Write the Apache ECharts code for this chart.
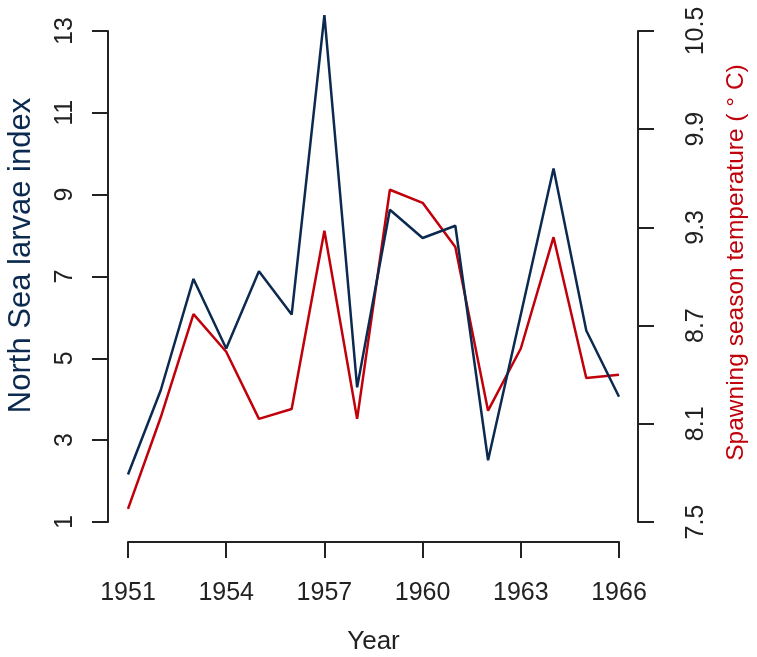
<!DOCTYPE html>
<html lang="en">
<head>
    <meta charset="UTF-8">
    <script src="https://cdn.jsdelivr.net/npm/echarts@6/dist/echarts.min.js"></script>
    <style>
        html, body {
            margin: 0;
            padding: 0;
            background: #ffffff;
        }

        #main {
            width: 757px;
            height: 657px;
        }
    </style>
</head>
<body>
<div id="main"></div>
<script type="text/javascript">
    // values
    const years = [1951, 1952, 1953, 1954, 1955, 1956, 1957, 1958, 1959, 1960, 1961, 1962, 1963, 1964, 1965, 1966];
    const larvae = [2.16, 4.22, 6.94, 5.24, 7.13, 6.07, 13.39, 4.29, 8.63, 7.94, 8.24, 2.51, 6.07, 9.64, 5.68, 4.06];
    const temperature = [7.58, 8.14, 8.77, 8.54, 8.13, 8.19, 9.28, 8.13, 9.53, 9.45, 9.18, 8.18, 8.56, 9.24, 8.38, 8.40];

    const yearTicks = [1951, 1954, 1957, 1960, 1963, 1966];
    const larvaeTicks = [1, 3, 5, 7, 9, 11, 13];
    const tempTicks = [7.5, 8.1, 8.7, 9.3, 9.9, 10.5];

    const blue = '#0c2a50';
    const red = '#c0000a';
    const ink = '#222222';
    const font = "'Liberation Sans', Arial, sans-serif";

    const chart = echarts.init(document.getElementById('main'));

    function pairs(ys) {
        return years.map(function (y, i) {
            return [y, ys[i]];
        });
    }

    chart.setOption({
        animation: false,
        backgroundColor: '#ffffff',
        textStyle: {fontFamily: font},
        grid: {
            left: 128,
            right: 138,
            top: 31,
            bottom: 135,
            outerBoundsMode: 'none'
        },
        xAxis: {
            type: 'value',
            min: 1951,
            max: 1966,
            offset: 20,
            splitLine: {show: false},
            axisLine: {lineStyle: {color: ink, width: 2}},
            axisTick: {length: 16, lineStyle: {color: ink, width: 2}, customValues: yearTicks},
            axisLabel: {
                customValues: yearTicks,
                color: ink,
                fontSize: 25,
                fontFamily: font,
                margin: 39,
                formatter: function (v) {
                    return String(v);
                }
            },
            name: 'Year',
            nameLocation: 'middle',
            nameGap: 87,
            nameTextStyle: {color: ink, fontSize: 26, fontFamily: font}
        },
        yAxis: [
            {
                type: 'value',
                position: 'left',
                min: 1,
                max: 13,
                offset: 20,
                splitLine: {show: false},
                axisLine: {show: true, lineStyle: {color: ink, width: 2}},
                axisTick: {show: true, length: 16, lineStyle: {color: ink, width: 2}, customValues: larvaeTicks},
                axisLabel: {
                    customValues: larvaeTicks,
                    rotate: 90,
                    color: ink,
                    fontSize: 25,
                    fontFamily: font,
                    margin: 30
                },
                name: 'North Sea larvae index',
                nameLocation: 'middle',
                nameGap: 71,
                nameTextStyle: {color: blue, fontSize: 31, fontFamily: font, padding: [0, 0, 0, 42]}
            },
            {
                type: 'value',
                position: 'right',
                min: 7.5,
                max: 10.5,
                offset: 19,
                splitLine: {show: false},
                axisLine: {show: true, lineStyle: {color: ink, width: 2}},
                axisTick: {show: true, length: 16, lineStyle: {color: ink, width: 2}, customValues: tempTicks},
                axisLabel: {
                    customValues: tempTicks,
                    rotate: 90,
                    color: ink,
                    fontSize: 25,
                    fontFamily: font,
                    margin: 46,
                    formatter: function (v) {
                        return v.toFixed(1);
                    }
                },
                name: 'Spawning season temperature ( ° C)',
                nameLocation: 'middle',
                nameGap: 86,
                nameRotate: 90,
                nameTextStyle: {color: red, fontSize: 24.5, fontFamily: font, padding: [0, 0, 0, 28]}
            }
        ],
        series: [
            {
                name: 'larvae',
                type: 'line',
                yAxisIndex: 0,
                data: pairs(larvae),
                showSymbol: false,
                clip: false,
                lineStyle: {color: blue, width: 2.5},
                z: 3
            },
            {
                name: 'temperature',
                type: 'line',
                yAxisIndex: 1,
                data: pairs(temperature),
                showSymbol: false,
                clip: false,
                lineStyle: {color: red, width: 2.5},
                z: 2
            }
        ]
    });
</script>
</body>
</html>
